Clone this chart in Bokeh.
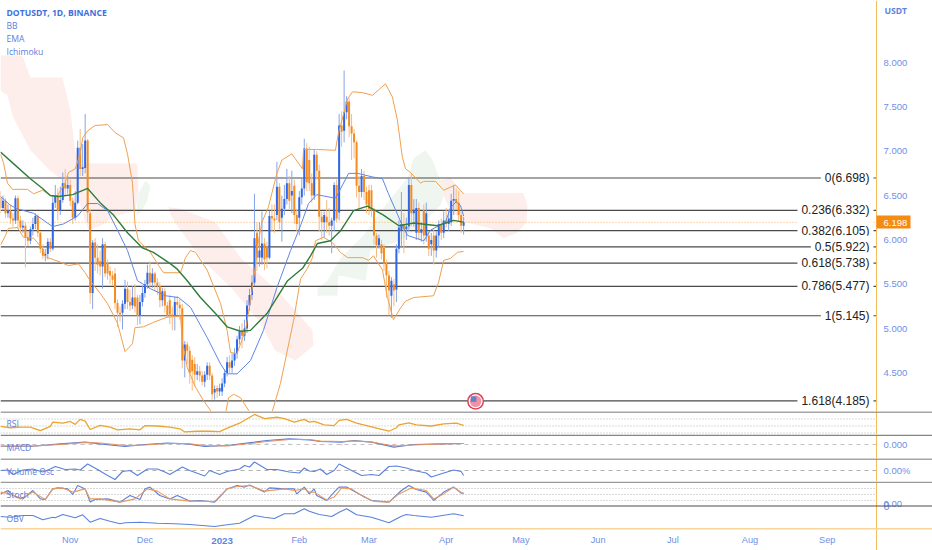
from bokeh.plotting import figure
from bokeh.layouts import column
from bokeh.models import (BoxAnnotation, Label, Range1d, FixedTicker,
                          ColumnDataSource, PrintfTickFormatter)
from bokeh.embed import file_html
from bokeh.resources import INLINE

# ---------- candles (one per day, day 0 = 4 Oct 2022) ----------
opens = [6.48,6.36,6.44,6.30,6.33,6.24,6.22,6.47,6.22,6.14,
         6.16,6.03,5.99,6.12,6.18,6.27,6.08,5.90,5.82,5.84,
         5.98,5.90,6.42,6.50,6.33,6.45,6.64,6.58,6.62,6.44,
         6.25,6.42,7.04,6.80,6.81,7.12,6.30,5.40,5.97,5.80,
         5.76,5.70,5.95,5.74,5.65,5.60,5.62,5.29,5.18,5.18,
         5.28,5.45,5.30,5.26,5.35,5.35,5.15,5.30,5.40,5.50,
         5.63,5.52,5.62,5.52,5.48,5.32,5.42,5.26,5.32,5.16,
         5.15,5.30,5.27,5.23,4.64,4.82,4.75,4.65,4.60,4.48,
         4.52,4.47,4.40,4.48,4.58,4.47,4.28,4.33,4.29,4.29,
         4.38,4.50,4.62,4.56,4.64,4.72,4.88,4.97,4.92,5.00,
         5.26,5.38,5.52,6.08,5.80,5.80,5.96,5.92,5.80,6.27,
         6.24,6.28,6.60,6.25,6.35,6.46,6.64,6.50,6.61,6.28,
         6.25,6.48,6.58,7.03,6.90,6.64,6.50,6.96,6.78,6.26,
         6.20,6.26,6.20,6.16,6.22,6.62,6.31,7.29,7.23,7.44,
         7.56,7.28,7.20,7.10,6.61,6.54,6.72,6.54,6.56,6.56,
         6.33,6.05,5.94,5.95,5.91,5.73,5.60,5.37,5.50,5.44,
         5.90,6.10,6.18,6.12,6.15,6.62,6.30,6.08,6.36,6.08,
         6.33,6.05,6.05,5.95,6.05,5.88,6.05,6.18,6.08,6.22,
         6.18,6.20,6.44,6.46,6.42,6.28,6.16]
closes = [6.36,6.44,6.30,6.33,6.24,6.22,6.47,6.22,6.14,6.16,
          6.03,5.99,6.12,6.18,6.27,6.08,5.90,5.82,5.84,5.98,
          5.90,6.42,6.50,6.33,6.45,6.64,6.58,6.62,6.44,6.25,
          6.42,7.04,6.80,6.82,7.12,6.31,5.40,5.97,5.80,5.72,
          5.70,5.95,5.62,5.62,5.60,5.55,5.29,5.18,5.16,5.28,
          5.45,5.30,5.26,5.35,5.25,5.15,5.30,5.40,5.50,5.63,
          5.52,5.62,5.52,5.48,5.32,5.42,5.26,5.15,5.16,5.15,
          5.30,5.27,5.23,4.64,4.82,4.75,4.50,4.52,4.48,4.52,
          4.47,4.40,4.48,4.58,4.47,4.26,4.32,4.29,4.33,4.38,
          4.50,4.62,4.56,4.64,4.72,4.88,4.97,4.92,5.00,5.26,
          5.38,5.52,6.02,5.80,5.88,5.96,5.78,5.80,6.27,6.24,
          6.22,6.60,6.20,6.35,6.46,6.64,6.44,6.55,6.28,6.18,
          6.48,6.58,7.03,6.65,6.64,6.50,6.96,6.78,6.26,6.20,
          6.28,6.20,6.16,6.22,6.62,6.24,7.29,7.22,7.44,7.56,
          7.28,7.20,7.10,6.61,6.54,6.72,6.54,6.40,6.35,6.33,
          6.05,5.94,6.02,5.85,5.73,5.60,5.43,5.54,5.43,5.90,
          6.14,6.18,6.12,6.15,6.62,6.30,6.34,6.36,6.08,6.12,
          6.05,6.30,5.90,6.00,5.88,6.05,6.18,6.08,6.22,6.18,
          6.24,6.44,6.46,6.42,6.28,6.16,6.20]
highs = [6.55,6.50,6.47,6.40,6.40,6.30,6.50,6.50,6.27,6.22,
         6.20,6.10,6.15,6.25,6.30,6.29,6.10,5.95,5.90,6.02,
         6.02,6.50,6.62,6.58,6.60,6.76,6.80,6.72,6.68,6.48,
         6.55,7.12,7.25,7.08,7.42,7.14,6.35,6.00,6.02,5.95,
         5.88,6.02,5.98,5.78,5.70,5.65,5.68,5.33,5.25,5.32,
         5.55,5.53,5.44,5.48,5.50,5.38,5.38,5.48,5.55,5.72,
         5.76,5.68,5.64,5.57,5.52,5.46,5.46,5.30,5.38,5.25,
         5.36,5.37,5.33,5.28,4.86,4.85,4.80,4.70,4.68,4.60,
         4.58,4.52,4.52,4.62,4.62,4.50,4.36,4.36,4.38,4.44,
         4.54,4.68,4.70,4.72,4.78,4.92,5.03,5.06,5.10,5.32,
         5.45,5.60,6.52,6.20,6.20,6.32,6.02,5.98,6.33,6.40,
         6.40,6.88,6.64,6.50,6.62,6.80,6.72,6.78,6.68,6.35,
         6.55,6.70,7.14,7.09,7.05,6.75,7.02,7.00,6.85,6.32,
         6.32,6.45,6.36,6.25,6.65,6.68,7.42,7.45,7.91,7.62,
         7.60,7.42,7.25,7.12,6.72,6.80,6.78,6.60,6.62,6.62,
         6.36,6.08,6.06,6.00,5.95,5.78,5.65,5.58,5.56,5.95,
         6.22,6.54,6.30,6.25,6.70,6.75,6.46,6.46,6.42,6.20,
         6.40,6.42,6.10,6.08,6.12,6.10,6.22,6.24,6.32,6.36,
         6.34,6.52,6.62,6.58,6.55,6.32,6.26]
lows = [6.30,6.33,6.25,6.25,6.18,6.15,6.18,6.12,6.08,6.08,
        5.69,5.93,5.95,6.05,6.12,6.03,5.85,5.78,5.76,5.78,
        5.86,5.88,6.36,6.22,6.28,6.42,6.50,6.52,6.38,6.18,
        6.22,6.40,6.72,6.72,6.75,6.20,5.28,5.22,5.65,5.62,
        5.60,5.45,5.58,5.55,5.50,5.48,5.22,5.02,5.08,4.99,
        5.22,5.22,5.20,5.22,5.18,5.04,5.05,5.25,5.35,5.45,
        5.45,5.46,5.42,5.38,5.24,5.25,5.18,5.12,5.05,4.98,
        4.98,5.15,5.10,4.55,4.45,4.60,4.38,4.30,4.35,4.42,
        4.40,4.36,4.34,4.42,4.42,4.20,4.20,4.22,4.24,4.24,
        4.34,4.46,4.50,4.50,4.58,4.66,4.82,4.78,4.86,4.95,
        5.20,5.32,5.48,5.65,5.70,5.72,5.66,5.68,5.78,6.10,
        6.08,6.22,6.12,5.98,6.28,6.40,6.35,6.30,6.18,6.10,
        6.05,6.40,6.50,6.55,6.55,6.42,6.45,6.68,6.10,6.00,
        6.02,6.08,6.05,5.85,6.10,6.20,6.22,7.05,7.10,7.36,
        7.16,6.90,6.92,6.48,6.35,6.48,6.45,6.30,6.28,6.26,
        5.95,5.80,5.90,5.78,5.65,5.35,5.15,5.12,5.25,5.30,
        5.85,5.92,5.85,6.00,6.10,6.15,6.15,6.00,6.00,5.98,
        5.95,5.98,5.82,5.82,5.72,5.80,5.92,6.00,6.02,6.14,
        6.10,6.16,6.28,6.34,6.20,6.08,6.06]
last_price = 6.198

# ---------- Bollinger bands ----------
bb_up_d = [0,1.2,2.8,4.8,10.8,13.3,16.9,20,22.9,26,27.3,30,32,33,35,38,43,46,49.4,51,53,54,55.4,60.2,63.5,65.5,
           72.3,74.3,76.3,78.3,83,88.4,91,92.4,95,98.4,100.4,102.4,103.6,105,107.6,111,113,117,121.3,121.7,127,
           134.5,135.7,139.4,141.4,145.4,149.4,154.6,157.4,159.4,161.4,162.7,164.7,168.7,170,174.7,178,182.7,186]
bb_up_p = [6.97,6.87,6.64,6.57,6.57,6.52,6.56,6.50,6.50,6.65,6.76,6.80,6.97,7.15,7.23,7.29,7.30,7.21,7.15,6.97,
           6.64,6.18,5.99,5.86,5.71,5.63,5.63,5.80,5.88,5.86,5.66,5.28,4.98,4.73,4.72,4.98,5.32,5.71,5.99,6.20,
           6.37,6.75,6.90,6.97,6.80,7.02,7.02,7.01,7.20,7.59,7.67,7.66,7.63,7.76,7.61,7.35,6.93,6.80,6.76,6.64,
           6.66,6.66,6.56,6.62,6.52]
bb_lo_d = [0,2,3.2,6.8,9.2,13.3,16.9,18,24,27.3,31.3,34,36,40,43,47,50,53,54,57.4,61.4,67,72.3,73,75,78.3,81.5,
           85,88.4,90.4,91.6,93.6,96.4,99.6,102.8,109,112.4,117.7,120.5,123.3,125.3,126.5,129.7,133.3,136.5,
           139.4,145.4,147.8,149.8,153.4,155.4,157.8,160.6,162.7,165.9,173.9,175.9,178,180.7,183.5,186]
bb_lo_p = [5.94,6.05,6.13,6.14,6.03,6.02,5.90,5.81,5.75,5.71,5.73,5.63,5.54,5.40,5.28,5.06,4.74,4.83,5.01,5.02,
           5.07,5.13,5.14,4.87,4.56,4.34,4.19,4.05,3.91,4.05,4.22,4.26,4.22,4.08,3.91,4.05,4.38,5.09,5.56,5.68,
           5.80,5.99,6.03,5.97,5.86,5.80,5.80,5.77,5.82,5.66,5.35,5.10,5.23,5.31,5.35,5.37,5.52,5.77,5.79,5.86,5.87]
bb_mid_d = [0,4,6.8,13.3,20.9,25.3,31,35,39,43,47,51,55,60.2,66.3,71.5,76.3,83,88.4,91,95,100.4,105.6,111,116.5,
            120.5,123.7,127,134.5,135.7,139.8,143.4,149.4,153.4,155.8,159.4,161.4,163.5,170,172.7,178.7,180.7,
            183,184.7,186]
bb_mid_p = [6.49,6.39,6.35,6.30,6.15,6.18,6.27,6.41,6.41,6.33,6.11,5.88,5.54,5.45,5.37,5.35,5.24,4.90,4.60,4.49,
            4.49,4.64,4.98,5.46,5.88,6.16,6.41,6.51,6.47,6.53,6.75,6.75,6.71,6.69,6.52,6.29,6.16,6.05,5.99,6.11,
            6.20,6.36,6.43,6.39,6.27]

# ---------- EMA ----------
ema_d = [0,5.2,12,16.9,20,23.3,29,35,40,45.4,51,57,61.4,68.3,71,75,80.3,87,91,96.4,100.4,107,115.3,121.3,124.5,
         127.3,132.5,136.5,141.8,147.4,153.8,160,165.9,175.5,182,186]
ema_p = [6.99,6.86,6.69,6.58,6.50,6.49,6.51,6.58,6.42,6.28,6.08,5.91,5.86,5.73,5.67,5.54,5.35,5.15,5.02,4.97,
         4.98,5.17,5.54,5.68,5.82,5.96,5.99,6.10,6.33,6.38,6.28,6.16,6.19,6.16,6.22,6.20]

# ---------- Ichimoku cloud outlines ----------
red1_d = [0,8.8,12,24.9,28,30,31.3,35.3,55,55.4,54.2,47.4,40,35.3,30,20,12,4.8,2.8,0]
red1_p = [8.08,8.08,7.83,7.83,7.46,7.01,6.84,6.86,6.86,6.56,6.33,6.28,6.16,6.11,6.56,6.78,7.01,7.40,7.63,7.68]
red2_d = [67.5,72.3,86.3,96.4,111.2,118.5,125.3,125.7,118.5,110.4,104.4,93.6,80.3,71,68.3]
red2_p = [6.37,6.35,6.20,5.80,5.43,5.20,4.98,4.81,4.64,4.75,5.06,5.43,5.80,6.16,6.28]
red3_d = [176.7,180.7,185.5,210,211.6,211.2,207.6,202,196.8,186.7,180.7,177.9]
red3_p = [6.67,6.70,6.53,6.53,6.39,6.20,6.08,6.02,6.13,6.20,6.33,6.50]
green1_d = [55,58.2,60.2,59,56.2,54.6]
green1_p = [6.50,6.67,6.61,6.44,6.31,6.28]
green2_d = [127.3,131.3,136.5,145.8,154.6,163.5,165.9,170.7,173.5,175.5,178.7,176.7,168.7,160.6,148.6,146.6,135.7,135.3,127.3]
green2_p = [5.45,5.54,5.79,6.05,6.39,6.70,6.92,7.01,6.90,6.75,6.56,6.39,6.16,5.99,5.88,5.54,5.60,5.37,5.37]

# ---------- Fibonacci levels ----------
fib_ratios = ["0","0.236","0.382","0.5","0.618","0.786","1","1.618"]
fib_values = [6.698,6.332,6.105,5.922,5.738,5.477,5.145,4.185]

# ---------- indicators ----------
rsi_d = [0,4,8,12,16,20,21,25,28,30,32,34,36,40,44,47,52,56,58,63,68,72,74,79,84,88,92,96,102,106,111,114,118,122,124,
         126,130,134,136,139,143,147,156,159,160,164,167,173,178,183,186]
rsi_v = [48.7,45,47,47,37,49,61,58,63,54.5,69,64,40,52,47,39,42,39,51,50,47,42,33,35,35,34,47,58,83,71,75,71,61,69,61,
         63,53,51,66,69,58,51,35,45,53,59,53,50,56,58,52]
macd_d = [0,13,24,34,40,50,58,67,75,82,91,102,107,116,124,128.5,137,142,149,158,166,177,186]
macd_v = [-0.034,-0.034,0.013,0.047,0.013,-0.04,0,0.027,0.013,-0.04,-0.02,0.047,0.08,0.113,0.093,
          0.06,0.047,0.08,0.047,-0.053,0,0.013,0.02]
macd_s = [-0.03,-0.03,0,0.04,0.03,-0.02,-0.01,0.02,0.02,-0.02,-0.03,0.03,0.06,0.10,0.10,
          0.07,0.06,0.07,0.05,-0.03,-0.01,0.01,0.02]
vol_d = [0,3,5,9,13,17,20,22,26,30,32,35,39,43,46,49,52,55,59,63,66,68,73,76,82,84,88,91,96,98,100,102,107,111,116,120,122,124,
         126,128.5,131,134,136,141,145,149,152,156,159,163,167,171,173,178,182,185,186]
vol_v = [0,1,-8,1,3,-3,3,8,2,3,1,13,2,-10,-18,-2,0,-10,3,3,-3,-8,7,0,-11,0,-8,-2,3,10,7,17,2,2,-3,-5,5,-1,
         -2,3,-8,0,13,0,-10,-8,-10,8,9,5,-1,-5,-13,-5,1,-2,-10]
stoch_k_d = [0,3,5,9,13,16,18,21,23,27,29,31,34,36,38,43,48,52,56,58,60,64,68,71,76,80,86,88,91,95,98,100,106,108,114,118,119,122,124,
             126,127,131,134,136,139,144,149,156,161,164,167,171,174,178,182,185,186]
stoch_k = [53,70,45,28,70,28,25,78,83,78,50,95,78,12,25,28,12,45,25,78,87,45,28,45,17,20,12,37,78,95,87,98,62,83,78,78,53,87,53,
           78,45,20,62,87,87,53,20,12,70,95,75,62,20,62,87,57,57]
stoch_d_d = [0,4,8,13,18,21,25,29,34,36,40,48,54,59,63,68,76,86,91,95,100,106,114,118,122,124,
             126,131,134,137,141,146,150,156,160,165,171,174,178,182,186]
stoch_d = [62,53,28,62,25,78,83,62,78,28,28,12,28,78,67,28,17,15,78,90,95,67,78,70,78,62,
           62,23,37,83,78,37,15,12,53,82,70,28,53,87,53]
obv_d = [0,4,9,13,17,21,22,25,30,33,36,40,44,48,50,56,63,70,76,86,91,96,102,106,110,114,118,122,124,
         128,133,136,139,143,149,156,161,163,166,173,182,186]
obv_v = [2,1.3,3,3,-1.3,1.3,0.7,4,0.7,3.7,-3.7,0,-2.7,-5.3,-4.3,-3.7,-4.7,-5.3,-6,-8,-6.3,-4.7,3,1.3,0,4.7,4.7,9.7,7.3,
         4,2,6.3,9.7,3.7,1.3,-4.3,2.3,4,3,1.3,4.7,2.7]

# ---------- axes ----------
price_ticks = [4.5,5.0,5.5,6.0,6.5,7.0,7.5,8.0]
month_days = [28,58,89,120,148,179,209,240,270,301,332]
month_names = ["Nov","Dec","2023","Feb","Mar","Apr","May","Jun","Jul","Aug","Sep"]

BLUE = "#2f66e6"; ORANGE = "#f58a1f"; WICK_B = "#86a3ea"; WICK_O = "#f6bb80"
AXIS = "#f5bd5c"; TICK = "#6f8fe8"; LEG = "#5f7ddc"
CLOUD_R = "#fdeeeb"; CLOUD_G = "#eff6ef"
W = 932; FRAME_W = 876; PXDAY = 2.49
x_rng = (0, W / PXDAY)
x_scale_end = FRAME_W / PXDAY


def base(height, y_rng):
    p = figure(width=W, height=height, output_backend="svg", toolbar_location=None,
               x_range=Range1d(*x_rng), y_range=Range1d(*y_rng), y_axis_location="right",
               min_border_left=0, min_border_top=0, min_border_right=0, min_border_bottom=0,
               background_fill_color="white", border_fill_color="white", outline_line_color=None)
    p.grid.visible = False
    p.xaxis.visible = False
    a = p.yaxis[0]
    a.fixed_location = x_scale_end
    a.axis_line_color = None
    a.major_tick_line_color = None
    a.minor_tick_line_color = None
    a.major_tick_out = 0
    a.major_tick_in = 0
    a.major_label_standoff = 7
    a.major_label_text_color = TICK
    a.major_label_text_font = "Liberation Sans"
    a.major_label_text_font_size = "9.5px"
    a.ticker = FixedTicker(ticks=[])
    p.add_layout(BoxAnnotation(left=FRAME_W - 0.5, right=FRAME_W + 0.5, top=0, bottom=height,
                               left_units="canvas", right_units="canvas", top_units="canvas",
                               bottom_units="canvas", fill_color=AXIS, fill_alpha=1, line_color=None,
                               level="overlay"))
    return p


def rule(p, y, thick, color):
    p.add_layout(BoxAnnotation(left=0, right=W, top=y, bottom=y + thick,
                               left_units="canvas", right_units="canvas", top_units="canvas",
                               bottom_units="canvas", fill_color=color, fill_alpha=1, line_color=None,
                               level="overlay"))


def level_line(p, val, color, dash, width=1.0):
    p.segment([0], [val], [x_scale_end], [val], line_color=color, line_dash=dash, line_width=width)


def caption(p, txt, y, bold=False, color=LEG):
    p.add_layout(Label(x=6, y=y, x_units="canvas", y_units="canvas", text=txt, text_color=color,
                       text_font="Open Sans", text_font_size="8.6px", text_baseline="middle",
                       text_font_style="bold" if bold else "normal"))


# ---------- main pane (0..411 px) ----------
PX = 0.5 / 44.35
main = base(411, (8 - (411 - 62) * PX, 8 + 62 * PX))
main.yaxis[0].ticker = FixedTicker(ticks=price_ticks)
main.yaxis[0].formatter = PrintfTickFormatter(format="%.3f")

for xs, ys, col in [(red1_d, red1_p, CLOUD_R), (red2_d, red2_p, CLOUD_R), (red3_d, red3_p, CLOUD_R),
                    (green1_d, green1_p, CLOUD_G), (green2_d, green2_p, CLOUD_G)]:
    main.patch(xs, ys, fill_color=col, line_color=None)

level_line(main, last_price, "#f7b25a", "1 2")
for val in fib_values:
    level_line(main, val, "#4a4a4a", "solid", 1.2)

days = list(range(len(opens)))
up = [c >= o for o, c in zip(opens, closes)]
src = ColumnDataSource(dict(d=days, o=opens, c=closes, h=highs, l=lows,
                            body=[BLUE if u else ORANGE for u in up],
                            wick=[WICK_B if u else WICK_O for u in up]))
main.segment("d", "h", "d", "l", source=src, line_color="wick", line_width=1)
main.vbar("d", 0.8, "o", "c", source=src, fill_color="body", line_color=None)

main.line(bb_up_d, bb_up_p, line_color="#f0a050", line_width=1)
main.line(bb_lo_d, bb_lo_p, line_color="#f0a050", line_width=1)
main.line(bb_mid_d, bb_mid_p, line_color="#5f86e6", line_width=1)
main.line(ema_d, ema_p, line_color="#2f7d3a", line_width=1.4)

for ratio, val in zip(fib_ratios, fib_values):
    main.add_layout(Label(x=873 / PXDAY, y=val, text=f"{ratio}({val:.3f})", text_align="right",
                          text_baseline="middle", text_color="#222222", text_font="Liberation Sans",
                          text_font_size="12px", background_fill_color="white", background_fill_alpha=1,
                          padding=4))

# event flag on the lowest Fibonacci line
flag_d = 190.8
flag_p = 4.18
main.scatter([flag_d], [flag_p], size=17, marker="circle", fill_color="#e0405a", line_color=None)
main.scatter([flag_d], [flag_p], size=14, marker="circle", fill_color="white", line_color=None)
main.scatter([flag_d], [flag_p], size=11.5, marker="circle", fill_color="#f0929f", line_color=None)
main.scatter([flag_d - 0.8], [flag_p + 0.025], size=5.5, marker="square", fill_color="#5a86d0", line_color=None)

caption(main, "DOTUSDT, 1D, BINANCE", 12, bold=True, color="#3f70e0")
caption(main, "BB", 25)
caption(main, "EMA", 38)
caption(main, "Ichimoku", 51)

main.add_layout(Label(x=884, y=10, x_units="canvas", y_units="canvas", text="USDT", text_color="#5f85e0",
                      text_font="Open Sans", text_font_size="8.6px", text_font_style="bold",
                      text_baseline="middle"))
main.add_layout(BoxAnnotation(left=FRAME_W, right=910, top=215, bottom=228, left_units="canvas",
                              right_units="canvas", top_units="canvas", bottom_units="canvas",
                              fill_color="#f58a14", fill_alpha=1, line_color=None, level="overlay"))
main.add_layout(Label(x=883, y=222, x_units="canvas", y_units="canvas", text=f"{last_price:.3f}",
                      text_color="white", text_font="Liberation Sans", text_font_size="9.5px",
                      text_baseline="middle", level="overlay"))

# ---------- RSI pane (411..434) ----------
rsi = base(23, (25.7, 91.4))
rule(rsi, 0, 1, "#4d4d4d")
for lvl in (70, 50, 30):
    level_line(rsi, lvl, "#b5b5b5", "1 2")
rsi.line(rsi_d, rsi_v, line_color="#eba52c", line_width=1.3)
caption(rsi, "RSI", 12)

# ---------- MACD pane (434..458) ----------
macd = base(24, (-0.28, 0.20))
rule(macd, 0, 1.4, "#858585")
macd.yaxis[0].ticker = FixedTicker(ticks=[0])
macd.yaxis[0].formatter = PrintfTickFormatter(format="%.3f")
level_line(macd, 0, "#c4c4c4", "4 4")
macd_hist = [a - b for a, b in zip(macd_v, macd_s)]
macd.vbar(macd_d, 1.0, [0] * len(macd_d), macd_hist,
          fill_color=["#8fd0c4" if h >= 0 else "#f2a6a6" for h in macd_hist], line_color=None)
macd.line(macd_d, macd_v, line_color="#5a7fd8", line_width=1.1)
macd.line(macd_d, macd_s, line_color="#ea9360", line_width=1.1)
caption(macd, "MACD", 13)

# ---------- Volume oscillator pane (458..481) ----------
vol = base(23, (-22, 24))
rule(vol, 0, 1, "#4d4d4d")
vol.yaxis[0].ticker = FixedTicker(ticks=[0])
vol.yaxis[0].formatter = PrintfTickFormatter(format="%.2f%%")
level_line(vol, 0, "#b0b0b0", "4 4")
vol.line(vol_d, vol_v, line_color="#5a82dc", line_width=1.1)
caption(vol, "Volume Osc", 13)

# ---------- Stochastic + OBV panes and the time axis (481..550) ----------
STOCH_PX = 5.0
low = base(69, (115 - 69 * STOCH_PX, 115))
low.extra_y_ranges = {"obv": Range1d(-32, 37)}
rule(low, 0, 1.6, "#9a9a9a")
rule(low, 24, 1, "#4d4d4d")
low.yaxis[0].ticker = FixedTicker(ticks=[4])
low.yaxis[0].major_label_overrides = {4: "0.00"}
for lvl in (80, 50, 20):
    level_line(low, lvl, "#b5b5b5", "1 2")
low.line(stoch_k_d, stoch_k, line_color="#5a82dc", line_width=1.1)
low.line(stoch_d_d, stoch_d, line_color="#ec9a5c", line_width=1.1)
caption(low, "Stoch", 13)
low.add_layout(Label(x=883, y=24, x_units="canvas", y_units="canvas", text="0", text_color=TICK,
                     text_font="Liberation Sans", text_font_size="11px", text_baseline="middle"))
low.line(obv_d, obv_v, y_range_name="obv", line_color="#5a82dc", line_width=1.1)
caption(low, "OBV", 37)
rule(low, 46.4, 1.6, "#fad59a")
low.xaxis.visible = True
xa = low.xaxis[0]
xa.fixed_location = 115 - 47 * STOCH_PX
xa.ticker = FixedTicker(ticks=month_days)
xa.major_label_overrides = {d: ("" if n == "2023" else n) for d, n in zip(month_days, month_names)}
xa.axis_line_color = None
xa.major_tick_line_color = None
xa.minor_tick_line_color = None
xa.major_tick_out = 0
xa.major_tick_in = 0
xa.major_label_standoff = 6
xa.major_label_text_color = TICK
xa.major_label_text_font = "Liberation Sans"
xa.major_label_text_font_size = "9.2px"
low.add_layout(Label(x=89 * PXDAY, y=59, x_units="canvas", y_units="canvas", text="2023",
                     text_color="#5f85e0", text_font="Liberation Sans", text_font_size="9.8px",
                     text_font_style="bold", text_align="center", text_baseline="middle"))

page = column(main, rsi, macd, vol, low, spacing=0)
page.styles = {"position": "absolute", "left": "0px", "top": "0px"}

open("out.html", "w").write(file_html(page, INLINE))
